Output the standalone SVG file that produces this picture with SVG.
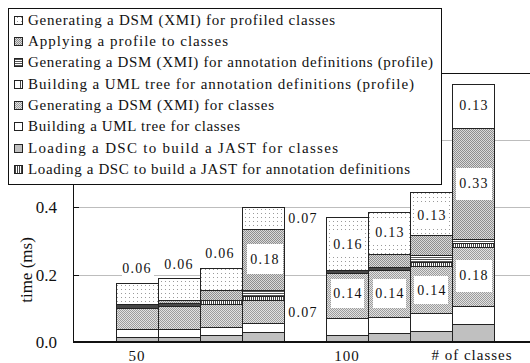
<svg xmlns="http://www.w3.org/2000/svg" width="530" height="363" viewBox="0 0 530 363">
  <style>
    .lg { font-family: "Liberation Serif", "Times New Roman", Times, "DejaVu Serif", serif; font-size: 15px; fill: #111; }
    .ax { font-family: "Liberation Serif", "Times New Roman", Times, "DejaVu Serif", serif; font-size: 17px; fill: #111; }
    .xl { font-family: "Liberation Serif", "Times New Roman", Times, "DejaVu Serif", serif; font-size: 15px; fill: #111; letter-spacing: 1px; }
    .val { font-family: "Liberation Serif", "Times New Roman", Times, "DejaVu Serif", serif; font-size: 14px; fill: #111; letter-spacing: 1.2px; text-anchor: middle; }
    .seg { stroke: #222; stroke-width: 1; }
    .grid { stroke: #bdbdbd; stroke-width: 1; fill: none; }
    .box { fill: #fff; stroke: none; }
    .dots { fill: url(#pDots); }
    .chk { fill: url(#pCheck); }
    .chk2 { fill: url(#pCheck2); }
    .hl { fill: url(#pHLines); }
    .vs { fill: url(#pVStripes); }
    .vs2 { fill: url(#pVSparse); }
    .wh { fill: #fff; }
    .gr { fill: #c0c0c0; }
    .dk { fill: #474747; }
  </style>
  <defs>
    <!-- sparse dot grid -->
    <pattern id="pDots" width="4" height="4" patternUnits="userSpaceOnUse">
      <rect width="4" height="4" fill="#fff"/>
      <rect x="1" y="1" width="1" height="1" fill="#9a9a9a"/>
    </pattern>
    <!-- halftone checker, light -->
    <pattern id="pCheck" width="2" height="2" patternUnits="userSpaceOnUse">
      <rect width="2" height="2" fill="#e2e2e2"/>
      <rect x="0" y="0" width="1" height="1" fill="#9c9c9c"/>
      <rect x="1" y="1" width="1" height="1" fill="#9c9c9c"/>
    </pattern>
    <!-- halftone checker, slightly denser -->
    <pattern id="pCheck2" width="2" height="2" patternUnits="userSpaceOnUse">
      <rect width="2" height="2" fill="#dadada"/>
      <rect x="0" y="0" width="1" height="1" fill="#8e8e8e"/>
      <rect x="1" y="1" width="1" height="1" fill="#8e8e8e"/>
    </pattern>
    <pattern id="pHLines" width="3" height="2" patternUnits="userSpaceOnUse">
      <rect width="3" height="2" fill="#fff"/>
      <rect x="0" y="1" width="3" height="1" fill="#555"/>
    </pattern>
    <pattern id="pVStripes" width="2" height="3" patternUnits="userSpaceOnUse">
      <rect width="2" height="3" fill="#fff"/>
      <rect x="1" y="0" width="1" height="3" fill="#444"/>
    </pattern>
    <pattern id="pVSparse" width="6" height="3" patternUnits="userSpaceOnUse">
      <rect width="6" height="3" fill="#fff"/>
      <rect x="2" y="0" width="1" height="3" fill="#444"/>
    </pattern>
  </defs>

  <rect width="530" height="363" fill="#fff"/>

  <!-- grid lines and plot frame -->
  <g id="grid">
    <line class="grid" x1="73" y1="140.5" x2="530" y2="140.5"/>
    <line class="grid" x1="73" y1="207.5" x2="530" y2="207.5"/>
    <line class="grid" x1="73" y1="275.5" x2="530" y2="275.5"/>
    <line x1="73" y1="73.5" x2="530" y2="73.5" stroke="#111" stroke-width="1"/>
  </g>

  <!-- group: 50 classes -->
  <g id="bar1">
    <rect class="seg dots" x="116.5" y="283.5" width="42" height="21"/>
    <rect class="seg dk" x="116.5" y="304.5" width="42" height="4"/>
    <rect class="seg chk" x="116.5" y="308.5" width="42" height="21"/>
    <rect class="seg wh" x="116.5" y="329.5" width="42" height="8"/>
    <rect class="seg gr" x="116.5" y="337.5" width="42" height="4.5"/>
  </g>
  <g id="bar2">
    <rect class="seg dots" x="158.5" y="278.5" width="42" height="22"/>
    <rect class="seg chk2" x="158.5" y="300.5" width="42" height="3"/>
    <rect class="seg dk" x="158.5" y="303.5" width="42" height="3"/>
    <rect class="seg chk" x="158.5" y="306.5" width="42" height="23"/>
    <rect class="seg wh" x="158.5" y="329.5" width="42" height="8"/>
    <rect class="seg gr" x="158.5" y="337.5" width="42" height="4.5"/>
  </g>
  <g id="bar3">
    <rect class="seg dots" x="200.5" y="268.5" width="42" height="22"/>
    <rect class="seg chk2" x="200.5" y="290.5" width="42" height="10"/>
    <rect class="seg vs" x="200.5" y="300.5" width="42" height="4"/>
    <rect class="seg chk" x="200.5" y="304.5" width="42" height="23"/>
    <rect class="seg wh" x="200.5" y="327.5" width="42" height="8"/>
    <rect class="seg gr" x="200.5" y="335.5" width="42" height="6.5"/>
  </g>
  <g id="bar4">
    <rect class="seg dots" x="242.5" y="207.5" width="42" height="22"/>
    <rect class="seg chk2" x="242.5" y="229.5" width="42" height="61"/>
    <rect class="seg hl" x="242.5" y="290.5" width="42" height="6"/>
    <rect class="seg vs" x="242.5" y="296.5" width="42" height="4"/>
    <rect class="seg chk" x="242.5" y="300.5" width="42" height="23"/>
    <rect class="seg wh" x="242.5" y="323.5" width="42" height="9"/>
    <rect class="seg gr" x="242.5" y="332.5" width="42" height="9.5"/>
    <rect class="box" x="247" y="244" width="36" height="30"/>
  </g>

  <!-- group: 100 classes -->
  <g id="bar5">
    <rect class="seg dots" x="326.5" y="217.5" width="42" height="53"/>
    <rect class="seg dk" x="326.5" y="270.5" width="42" height="3"/>
    <rect class="seg chk" x="326.5" y="273.5" width="42" height="45"/>
    <rect class="seg wh" x="326.5" y="318.5" width="42" height="17"/>
    <rect class="seg gr" x="326.5" y="335.5" width="42" height="6.5"/>
    <rect class="box" x="331" y="232" width="33" height="25"/>
    <rect class="box" x="331" y="279" width="33" height="29"/>
  </g>
  <g id="bar6">
    <rect class="seg dots" x="368.5" y="212.5" width="42" height="42"/>
    <rect class="seg chk2" x="368.5" y="254.5" width="42" height="13"/>
    <rect class="seg dk" x="368.5" y="267.5" width="42" height="3"/>
    <rect class="seg chk" x="368.5" y="270.5" width="42" height="47"/>
    <rect class="seg wh" x="368.5" y="317.5" width="42" height="16"/>
    <rect class="seg gr" x="368.5" y="333.5" width="42" height="8.5"/>
    <rect class="box" x="373" y="220" width="33" height="25"/>
    <rect class="box" x="373" y="279" width="33" height="29"/>
  </g>
  <g id="bar7">
    <rect class="seg dots" x="410.5" y="192.5" width="42" height="43"/>
    <rect class="seg chk2" x="410.5" y="235.5" width="42" height="20"/>
    <rect class="seg hl" x="410.5" y="255.5" width="42" height="7"/>
    <rect class="seg vs" x="410.5" y="262.5" width="42" height="4"/>
    <rect class="seg chk" x="410.5" y="266.5" width="42" height="47"/>
    <rect class="seg wh" x="410.5" y="313.5" width="42" height="18"/>
    <rect class="seg gr" x="410.5" y="331.5" width="42" height="10.5"/>
    <rect class="box" x="414" y="203" width="34" height="25"/>
    <rect class="box" x="414" y="276" width="34" height="28"/>
  </g>
  <g id="bar8">
    <rect class="seg wh" x="452.5" y="84.5" width="42" height="44"/>
    <rect class="seg chk2" x="452.5" y="128.5" width="42" height="111"/>
    <rect class="seg hl" x="452.5" y="239.5" width="42" height="4"/>
    <rect class="seg vs" x="452.5" y="243.5" width="42" height="4"/>
    <rect class="seg chk" x="452.5" y="247.5" width="42" height="59"/>
    <rect class="seg wh" x="452.5" y="306.5" width="42" height="18"/>
    <rect class="seg gr" x="452.5" y="324.5" width="42" height="17.5"/>
    <rect class="box" x="456" y="168" width="36" height="32"/>
    <rect class="box" x="456" y="260" width="36" height="32"/>
  </g>

  <!-- value labels -->
  <g id="values">
    <rect class="box" x="122" y="259" width="32" height="18"/>
    <rect class="box" x="162" y="255" width="34" height="18"/>
    <text class="val" x="137" y="273">0.06</text>
    <text class="val" x="179" y="269">0.06</text>
    <text class="val" x="220" y="258">0.06</text>
    <rect class="box" x="286" y="209" width="34" height="18"/>
    <text class="val" x="303" y="223">0.07</text>
    <text class="val" x="265" y="264">0.18</text>
    <text class="val" x="303" y="317">0.07</text>
    <text class="val" x="348" y="249">0.16</text>
    <text class="val" x="348" y="298">0.14</text>
    <text class="val" x="390" y="237">0.13</text>
    <text class="val" x="390" y="298">0.14</text>
    <text class="val" x="432" y="220">0.13</text>
    <text class="val" x="432" y="295">0.14</text>
    <text class="val" x="474" y="110">0.13</text>
    <text class="val" x="474" y="188">0.33</text>
    <text class="val" x="474" y="280">0.18</text>
  </g>

  <!-- axes -->
  <g id="axes">
    <line x1="73.5" y1="73" x2="73.5" y2="343" stroke="#111" stroke-width="1"/>
    <line x1="73" y1="342" x2="530" y2="342" stroke="#111" stroke-width="2"/>
    <line x1="73" y1="207.5" x2="79" y2="207.5" stroke="#111" stroke-width="1"/>
    <line x1="73" y1="275.5" x2="79" y2="275.5" stroke="#111" stroke-width="1"/>
    <text class="ax" x="57" y="213" text-anchor="end">0.4</text>
    <text class="ax" x="57" y="281" text-anchor="end">0.2</text>
    <text class="ax" x="57" y="348" text-anchor="end">0.0</text>
    <text class="ax" transform="translate(32,270) rotate(-90)" text-anchor="middle">time (ms)</text>
    <text class="xl" x="137" y="361" text-anchor="middle">50</text>
    <text class="xl" x="347" y="361" text-anchor="middle">100</text>
    <text class="xl" x="472" y="360" text-anchor="middle"># of classes</text>
  </g>

  <!-- legend -->
  <g id="legend">
    <rect x="8.5" y="8.5" width="433" height="176" fill="#fff" stroke="#111" stroke-width="1"/>
    <rect class="seg dots" x="14.5" y="16.5" width="8" height="8"/>
    <rect class="seg chk2" x="14.5" y="37.5" width="8" height="8"/>
    <rect class="seg hl" x="14.5" y="58.5" width="8" height="8"/>
    <rect class="seg vs2" x="14.5" y="80.5" width="8" height="8"/>
    <rect class="seg chk" x="14.5" y="101.5" width="8" height="8"/>
    <rect class="seg wh" x="14.5" y="122.5" width="8" height="8"/>
    <rect class="seg gr" x="14.5" y="144.5" width="8" height="8"/>
    <rect class="seg vs" x="14.5" y="165.5" width="8" height="8"/>
    <text class="lg" x="28" y="25" textLength="307" lengthAdjust="spacing">Generating a DSM (XMI) for profiled classes</text>
    <text class="lg" x="28" y="46" textLength="200" lengthAdjust="spacing">Applying a profile to classes</text>
    <text class="lg" x="28" y="67" textLength="405" lengthAdjust="spacing">Generating a DSM (XMI) for annotation definitions (profile)</text>
    <text class="lg" x="28" y="89" textLength="386" lengthAdjust="spacing">Building a UML tree for annotation definitions (profile)</text>
    <text class="lg" x="28" y="110" textLength="246" lengthAdjust="spacing">Generating a DSM (XMI) for classes</text>
    <text class="lg" x="28" y="131" textLength="212" lengthAdjust="spacing">Building a UML tree for classes</text>
    <text class="lg" x="28" y="153" textLength="310" lengthAdjust="spacing">Loading a DSC to build a JAST for classes</text>
    <text class="lg" x="28" y="174" textLength="382" lengthAdjust="spacing">Loading a DSC to build a JAST for annotation definitions</text>
  </g>
</svg>
